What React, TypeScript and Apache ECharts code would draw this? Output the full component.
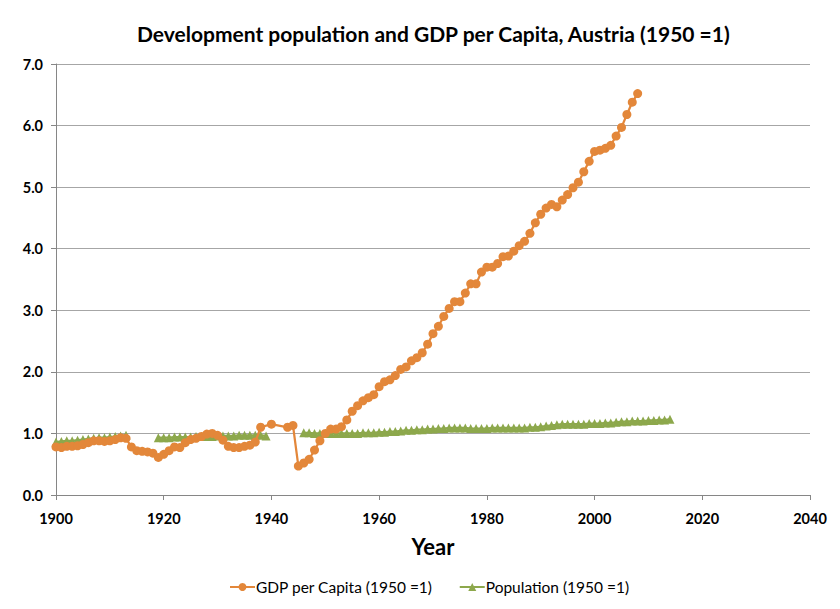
import React, { useEffect, useRef } from "react";
import * as echarts from "echarts";

const gdpYears = [
  1900, 1901, 1902, 1903, 1904, 1905, 1906, 1907, 1908, 1909, 1910, 1911, 1912, 1913,
  1914, 1915, 1916, 1917, 1918, 1919, 1920, 1921, 1922, 1923, 1924, 1925, 1926, 1927,
  1928, 1929, 1930, 1931, 1932, 1933, 1934, 1935, 1936, 1937, 1938, 1940, 1943, 1944,
  1945, 1946, 1947, 1948, 1949, 1950, 1951, 1952, 1953, 1954, 1955, 1956, 1957, 1958,
  1959, 1960, 1961, 1962, 1963, 1964, 1965, 1966, 1967, 1968, 1969, 1970, 1971, 1972,
  1973, 1974, 1975, 1976, 1977, 1978, 1979, 1980, 1981, 1982, 1983, 1984, 1985, 1986,
  1987, 1988, 1989, 1990, 1991, 1992, 1993, 1994, 1995, 1996, 1997, 1998, 1999, 2000,
  2001, 2002, 2003, 2004, 2005, 2006, 2007, 2008,
];
const gdpValues = [
  0.78, 0.77, 0.79, 0.79, 0.8, 0.82, 0.85, 0.88, 0.88, 0.87, 0.88, 0.9, 0.93, 0.92,
  0.78, 0.72, 0.71, 0.7, 0.68, 0.61, 0.66, 0.72, 0.78, 0.77, 0.85, 0.9, 0.92, 0.95,
  0.99, 1.0, 0.97, 0.89, 0.79, 0.77, 0.77, 0.79, 0.81, 0.86, 1.1, 1.15, 1.1, 1.13,
  0.47, 0.52, 0.58, 0.73, 0.88, 1.0, 1.07, 1.07, 1.11, 1.22, 1.36, 1.45, 1.53, 1.58,
  1.63, 1.76, 1.84, 1.87, 1.94, 2.04, 2.08, 2.18, 2.23, 2.31, 2.45, 2.62, 2.74, 2.9,
  3.03, 3.14, 3.14, 3.28, 3.43, 3.43, 3.62, 3.7, 3.7, 3.76, 3.87, 3.88, 3.96, 4.05,
  4.12, 4.25, 4.42, 4.56, 4.66, 4.72, 4.68, 4.79, 4.88, 4.99, 5.08, 5.25, 5.42, 5.58,
  5.6, 5.63, 5.68, 5.83, 5.97, 6.18, 6.38, 6.52,
];

// null marks the gaps (1914-1918, 1940-1945)
const popYears = [
  1900, 1901, 1902, 1903, 1904, 1905, 1906, 1907, 1908, 1909, 1910, 1911, 1912, 1913,
  1916,
  1919, 1920, 1921, 1922, 1923, 1924, 1925, 1926, 1927, 1928, 1929, 1930, 1931, 1932,
  1933, 1934, 1935, 1936, 1937, 1938, 1939,
  1942,
  1946, 1947, 1948, 1949, 1950, 1951, 1952, 1953, 1954, 1955, 1956, 1957, 1958, 1959,
  1960, 1961, 1962, 1963, 1964, 1965, 1966, 1967, 1968, 1969, 1970, 1971, 1972, 1973,
  1974, 1975, 1976, 1977, 1978, 1979, 1980, 1981, 1982, 1983, 1984, 1985, 1986, 1987,
  1988, 1989, 1990, 1991, 1992, 1993, 1994, 1995, 1996, 1997, 1998, 1999, 2000, 2001,
  2002, 2003, 2004, 2005, 2006, 2007, 2008, 2009, 2010, 2011, 2012, 2013, 2014,
];
const popValues: (number | null)[] = [
  0.86, 0.87, 0.88, 0.88, 0.89, 0.9, 0.91, 0.92, 0.93, 0.93, 0.94, 0.95, 0.96, 0.97,
  null,
  0.93, 0.93, 0.93, 0.94, 0.94, 0.94, 0.94, 0.95, 0.95, 0.95, 0.95, 0.96, 0.96, 0.96,
  0.96, 0.97, 0.97, 0.97, 0.97, 0.97, 0.96,
  null,
  1.01, 1.01, 1.0, 1.0, 1.0, 1.0, 1.0, 1.0, 1.0, 1.0, 1.0, 1.01, 1.01, 1.01,
  1.02, 1.02, 1.03, 1.03, 1.04, 1.05, 1.05, 1.06, 1.06, 1.07, 1.07, 1.08, 1.08, 1.09,
  1.09, 1.09, 1.09, 1.08, 1.08, 1.08, 1.08, 1.09, 1.09, 1.09, 1.09, 1.09, 1.09, 1.09,
  1.1, 1.1, 1.11, 1.12, 1.13, 1.14, 1.15, 1.15, 1.15, 1.15, 1.15, 1.16, 1.16, 1.16,
  1.17, 1.17, 1.18, 1.19, 1.19, 1.2, 1.2, 1.2, 1.21, 1.21, 1.22, 1.22, 1.23,
];

const seriesNames = ["GDP per Capita (1950 =1)", "Population (1950 =1)"];
const titleText = "Development population and GDP per Capita, Austria (1950 =1)";
const xAxisName = "Year";

const FONT = "Lato, 'Open Sans', sans-serif";

export default function App() {
  const ref = useRef<HTMLDivElement>(null);
  useEffect(() => {
    if (!ref.current) return;
    const chart = echarts.init(ref.current, undefined, { renderer: "svg" });
    const orange = "#E3873A";
    const green = "#8DA84C";
    chart.setOption({
      animation: false,
      backgroundColor: "#ffffff",
      textStyle: { fontFamily: FONT },
      title: {
        text: titleText,
        left: 132,
        top: 18,
        textStyle: { fontSize: 21, fontWeight: "bold", color: "#000", fontFamily: FONT },
      },
      graphic: [
        {
          type: "rect",
          shape: { x: 0.5, y: 0.5, width: 838, height: 607 },
          style: { fill: "none", stroke: "#d9d9d9", lineWidth: 1 },
          silent: true,
        },
      ],
      legend: {
        bottom: 9,
        left: 224,
        itemGap: 26,
        itemWidth: 25,
        itemHeight: 10,
        data: seriesNames,
        textStyle: { fontSize: 15.5, color: "#000", fontFamily: FONT, padding: [0, 0, 0, -4] },
      },
      grid: { left: 56, right: 30, top: 64, bottom: 114 },
      xAxis: {
        type: "value",
        min: 1900,
        max: 2040,
        interval: 20,
        name: xAxisName,
        nameLocation: "middle",
        nameGap: 40,
        nameTextStyle: { fontSize: 22, fontWeight: "bold", color: "#000", fontFamily: FONT },
        axisLine: { lineStyle: { color: "#868686", width: 1 } },
        axisTick: { show: true, inside: false, length: 5, lineStyle: { color: "#868686" } },
        axisLabel: {
          fontSize: 14.5,
          fontWeight: "bold",
          color: "#000",
          margin: 16,
          formatter: (v: number) => String(v),
        },
        splitLine: { show: false },
      },
      yAxis: {
        type: "value",
        min: 0,
        max: 7,
        interval: 1,
        axisLine: { show: true, lineStyle: { color: "#868686", width: 1 } },
        axisTick: { show: true, inside: false, length: 5, lineStyle: { color: "#868686" } },
        axisLabel: {
          fontSize: 14.5,
          fontWeight: "bold",
          color: "#000",
          margin: 13,
          formatter: (v: number) => v.toFixed(1),
        },
        splitLine: { show: true, lineStyle: { color: "#a6a6a6", width: 1 } },
      },
      series: [
        {
          name: seriesNames[0],
          type: "line",
          z: 3,
          data: gdpYears.map((y, i) => [y, gdpValues[i]]),
          symbol: "circle",
          symbolSize: 9,
          lineStyle: { color: orange, width: 2.25 },
          itemStyle: { color: orange },
        },
        {
          name: seriesNames[1],
          type: "line",
          z: 2,
          data: popYears.map((y, i) => [y, popValues[i]]),
          symbol: "triangle",
          symbolSize: 9,
          connectNulls: false,
          lineStyle: { color: green, width: 2.25 },
          itemStyle: { color: green },
        },
      ],
    });
    return () => chart.dispose();
  }, []);
  return <div ref={ref} style={{ width: 840, height: 609, margin: -8 }} />;
}
